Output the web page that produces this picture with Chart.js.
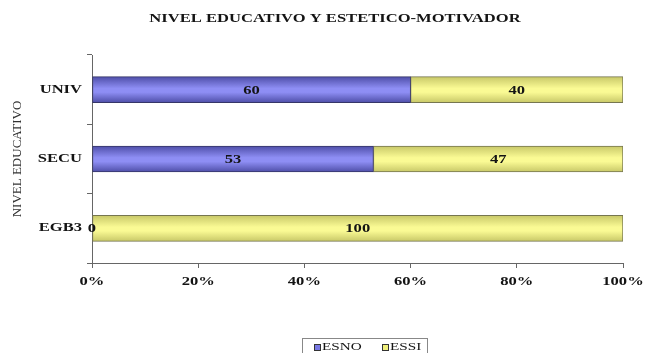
<!DOCTYPE html>
<html>
<head>
<meta charset="utf-8">
<script src="https://cdn.jsdelivr.net/npm/chart.js@4/dist/chart.umd.min.js"></script>
<style>
  html, body { margin: 0; padding: 0; background: #fff; }
  #wrap { width: 645px; height: 353px; }
</style>
</head>
<body>
<div id="wrap"><canvas id="grafico"></canvas></div>
<script>
// Datos del gráfico
const niveles = ['UNIV', 'SECU', 'EGB3'];
const esno = [60, 53, 0];
const essi = [40, 47, 100];
const ticksX = ['0%', '20%', '40%', '60%', '80%', '100%'];

const serif = '"Liberation Serif", "Times New Roman", serif';
const ANCHO = 1.38; // los textos van algo ensanchados

// Degradado vertical estilo hoja de cálculo para cada barra
function degradado(borde, centro) {
    return function (ctx) {
        const chart = ctx.chart;
        if (!chart.chartArea || !chart.scales.y) return centro;
        const y = chart.scales.y.getPixelForValue(ctx.dataIndex);
        const g = chart.ctx.createLinearGradient(0, y - 13, 0, y + 13);
        g.addColorStop(0, borde);
        g.addColorStop(0.45, centro);
        g.addColorStop(0.6, centro);
        g.addColorStop(1, borde);
        return g;
    };
}

// texto ensanchado horizontalmente
function texto(c, str, x, y, align) {
    c.save();
    c.translate(x, y);
    c.scale(ANCHO, 1);
    c.textAlign = align || 'center';
    c.fillText(str, 0, 0);
    c.restore();
}

// Título, rótulos de ejes, etiquetas de valor y leyenda
const extras = {
    id: 'extras',
    afterDraw(chart) {
        const c = chart.ctx;
        const sx = chart.scales.x, sy = chart.scales.y;
        c.save();
        c.fillStyle = '#141414';
        c.textBaseline = 'middle';

        // valores dentro de las barras
        c.font = 'bold 12px ' + serif;
        chart.data.datasets.forEach((ds, i) => {
            chart.getDatasetMeta(i).data.forEach((bar, j) => {
                const p = bar.getProps(['x', 'y', 'base'], true);
                texto(c, String(ds.data[j]), (p.x + p.base) / 2, p.y + 1);
            });
        });

        // categorías del eje Y
        niveles.forEach((n, i) => {
            texto(c, n, sy.right - 10, sy.getPixelForValue(i), 'right');
        });

        // porcentajes del eje X
        ticksX.forEach((t, i) => {
            texto(c, t, sx.getPixelForValue(i * 20), sx.top + 19);
        });

        // título
        texto(c, 'NIVEL EDUCATIVO Y ESTETICO-MOTIVADOR', 335, 19);

        // título del eje Y
        c.save();
        c.translate(18, 159);
        c.rotate(-Math.PI / 2);
        c.font = '13px ' + serif;
        c.fillStyle = '#333';
        c.textAlign = 'center';
        c.fillText('NIVEL EDUCATIVO', 0, 0);
        c.restore();

        // leyenda con recuadro
        c.strokeStyle = '#888';
        c.lineWidth = 1;
        c.strokeRect(302.5, 338.5, 125, 20);
        c.font = '11px ' + serif;
        c.textBaseline = 'top';
        const items = [
            { x: 314, color: '#7878e4', label: chart.data.datasets[0].label },
            { x: 382, color: '#f0f07a', label: chart.data.datasets[1].label }
        ];
        items.forEach(it => {
            c.fillStyle = it.color;
            c.fillRect(it.x, 344, 6, 6);
            c.strokeStyle = '#333';
            c.strokeRect(it.x + 0.5, 344.5, 6, 6);
            c.fillStyle = '#141414';
            texto(c, it.label, it.x + 8, 342, 'left');
        });
        c.restore();
    }
};

new Chart(document.getElementById('grafico'), {
    type: 'bar',
    data: {
        labels: niveles,
        datasets: [{
            label: 'ESNO',
            data: esno,
            backgroundColor: degradado('#4e4ea8', '#8e8ef4'),
            borderColor: '#363668',
            borderWidth: 1,
            borderSkipped: false,
            barThickness: 26
        }, {
            label: 'ESSI',
            data: essi,
            backgroundColor: degradado('#c8c868', '#fafa94'),
            borderColor: '#767650',
            borderWidth: 1,
            borderSkipped: false,
            barThickness: 26
        }]
    },
    options: {
        indexAxis: 'y',
        responsive: true,
        maintainAspectRatio: false,
        animation: false,
        layout: { padding: { top: 55, right: 22, left: 0, bottom: 0 } },
        plugins: {
            legend: { display: false },
            title: { display: false },
            tooltip: { enabled: false }
        },
        scales: {
            x: {
                stacked: true,
                min: 0,
                max: 100,
                afterFit(s) { s.height = 90; },
                border: { color: '#666', width: 1 },
                grid: { drawOnChartArea: false, tickLength: 5, color: '#666' },
                ticks: { stepSize: 20, display: false }
            },
            y: {
                stacked: true,
                afterFit(s) { s.width = 92; },
                border: { color: '#666', width: 1 },
                grid: { drawOnChartArea: false, tickLength: 5, color: '#666', offset: true },
                ticks: { display: false }
            }
        }
    },
    plugins: [extras]
});
</script>
</body>
</html>
